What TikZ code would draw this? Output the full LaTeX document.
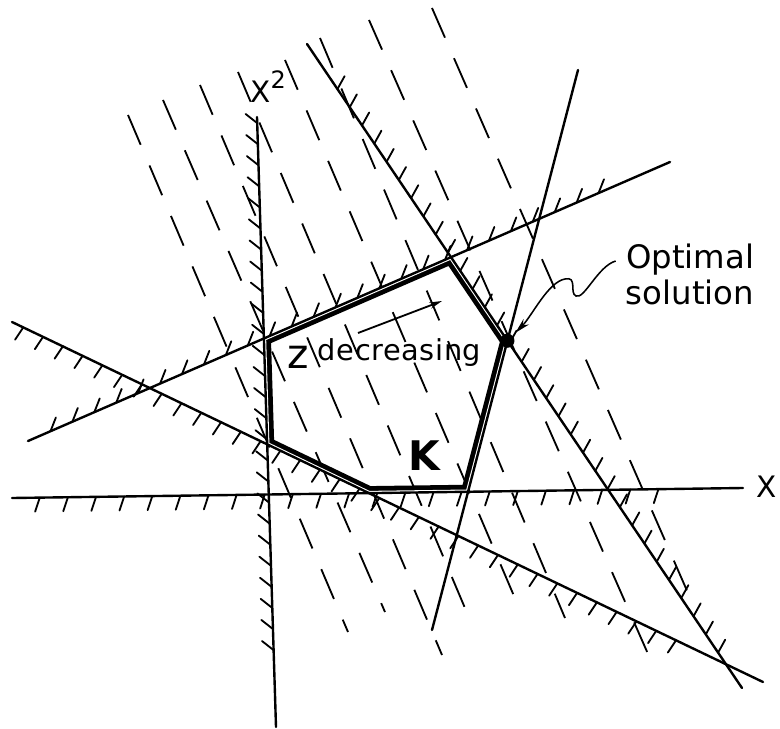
\documentclass[tikz,border=0pt]{standalone}
\usepackage{fontspec}
\setmainfont{DejaVu Sans}
\newfontfamily\spacedfont[LetterSpace=2]{DejaVu Sans}
\usetikzlibrary{arrows.meta, decorations.markings}

\begin{document}
\begin{tikzpicture}[
    x=0.025cm, y=-0.025cm,
    >=Stealth,
    constraint/.style={line width=1.7pt, line cap=round},
    level/.style={line width=1.3pt, dash pattern=on 23pt off 16pt},
    tick/.style={line width=1.3pt, line cap=round},
    hatch/.style n args={4}{postaction={decorate, decoration={markings,
        mark=between positions #1 and #2 step #3 with {\draw[tick] (0,0) -- (#4:10.5pt);}}}},
    lbl/.style={inner sep=0pt, font=\fontsize{21}{24}\selectfont},
    dot/.style={circle, fill, inner sep=0pt, minimum size=10pt},
    zarrow/.style={line width=1.3pt, -{Stealth[length=9pt, width=4.5pt]}},
    leader/.style={line width=1.1pt, -{Stealth[length=11pt, width=5.5pt]}, shorten >=8pt},
]
\useasboundingbox (0,0) rectangle (780,728);

% ============================================================
% LEVEL LINES OF z (dashed, parallel)
% ============================================================
\foreach \xa/\ya/\xb/\yb in {128/115/348/632, 163/100/385/612, 200/85/442/655,
    238/72/473/627, 285/60/517/603, 320/38/565/618, 369/20/652/663, 432/8/688/593}
  \draw[level] (\xa,\ya) -- (\xb,\yb);

% ============================================================
% CONSTRAINT LINES (end points)
% ============================================================
\coordinate (yaT) at (257,117);  \coordinate (yaB) at (276,727);
\coordinate (xaL) at (12,498);   \coordinate (xaR) at (743,488);
\coordinate (caL) at (28,441);   \coordinate (caR) at (670,162);
\coordinate (cbT) at (307,44);   \coordinate (cbB) at (742,688);
\coordinate (ccB) at (432,630);  \coordinate (ccT) at (578,70);
\coordinate (cdL) at (12,322);   \coordinate (cdR) at (763,682);

% --- Corners of K ---
\coordinate (k1) at (intersection of yaT--yaB and caL--caR);
\coordinate (k2) at (intersection of caL--caR and cbT--cbB);
\coordinate (opt) at (intersection of cbT--cbB and ccB--ccT);
\coordinate (k4) at (intersection of ccB--ccT and xaL--xaR);
\coordinate (k5) at (intersection of xaL--xaR and cdL--cdR);
\coordinate (k6) at (intersection of cdL--cdR and yaT--yaB);

% --- Boundary of K (heavy line just inside the constraints) ---
\begin{scope}
  \clip (k1) -- (k2) -- (opt) -- (k4) -- (k5) -- (k6) -- cycle;
  \draw[line width=10pt] (k1) -- (k2) -- (opt) -- (k4) -- (k5) -- (k6) -- cycle;
  \draw[white, line width=3.2pt] (k1) -- (k2) -- (opt) -- (k4) -- (k5) -- (k6) -- cycle;
\end{scope}

% --- Hatched constraints ---
\draw[constraint, hatch={0.01}{0.89}{15pt}{-130}] (yaT) -- (yaB);
\draw[constraint, hatch={0.038}{0.92}{20pt}{-109}] (xaL) -- (xaR);
\draw[constraint, hatch={0.035}{0.91}{17pt}{45}] (caL) -- (caR);
\draw[constraint, hatch={0.07}{0.95}{15.6pt}{117}] (cbT) -- (cbB);
\draw[constraint, hatch={0.015}{0.91}{15.6pt}{-98}] (cdL) -- (cdR);
\draw[constraint] (ccB) -- (ccT);

% --- Optimal vertex ---
\node[dot] (optdot) at (opt) {};

% ============================================================
% LABELS
% ============================================================
\node[lbl, anchor=base west] (xtwo) at (250,103)
    {X\raisebox{10pt}{\fontsize{17}{17}\selectfont 2}};
\node[lbl, anchor=base west] (xone) at (756,497) {X};
\node[lbl, anchor=base west, font=\fontsize{29}{32}\selectfont\bfseries] (kname) at (408,470) {K};

\node[lbl, anchor=base west, font=\fontsize{20.5}{24}\selectfont] (zdec) at (287,360)
    {{\fontsize{29}{29}\selectfont\raisebox{-5.7pt}{z}} {\spacedfont decreasing}};
\coordinate (zS) at (358,333);
\coordinate (zE) at (442,301);
\draw[zarrow] (zS) -- (zE);

\node[lbl, align=center, font=\fontsize{23}{25.6}\selectfont] (optlabel) at (690,274)
    {Optimal\\solution};
\draw[leader] ([shift={(-10,-13)}]optlabel.west) .. controls (598,266) and (584,300) ..
    (576,296) .. controls (569,293) and (578,276) .. (565,279)
    .. controls (548,282) and (532,316) .. (opt);

\end{tikzpicture}
\end{document}
